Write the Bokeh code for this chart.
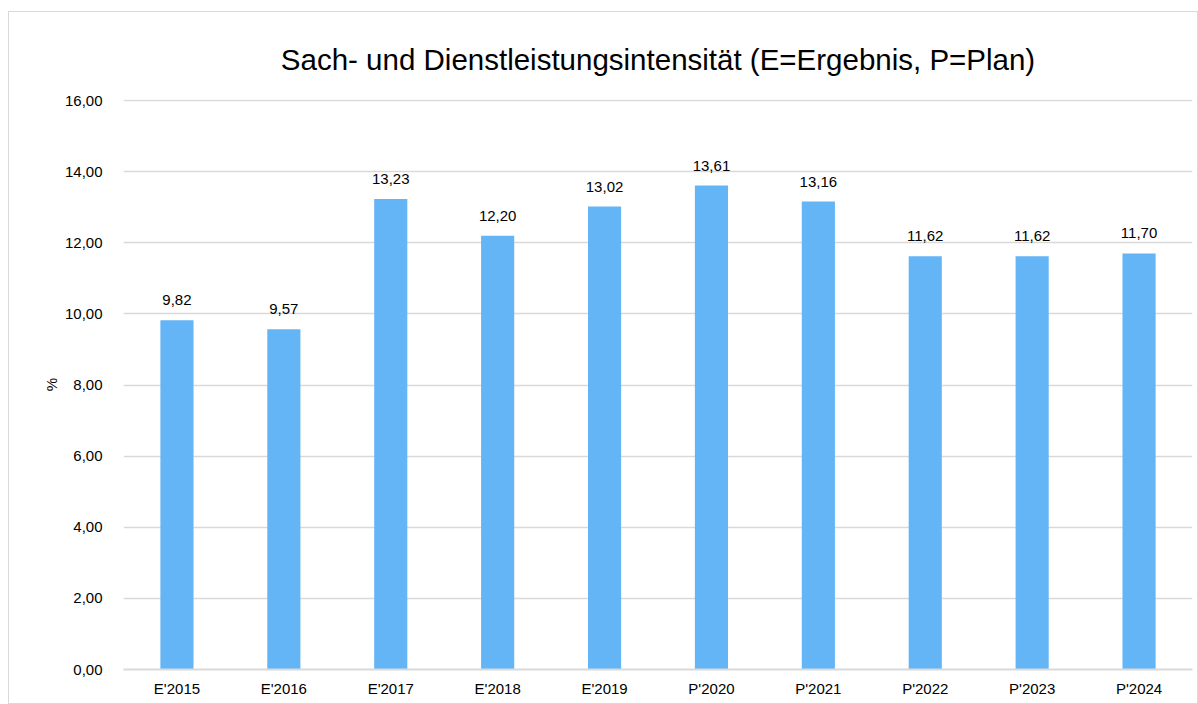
from bokeh.plotting import figure
from bokeh.models import ColumnDataSource, FixedTicker, Range1d
from bokeh.core.properties import value
from bokeh.embed import file_html
from bokeh.resources import INLINE

categories = ["E'2015", "E'2016", "E'2017", "E'2018", "E'2019",
              "P'2020", "P'2021", "P'2022", "P'2023", "P'2024"]
values = [9.82, 9.57, 13.23, 12.20, 13.02, 13.61, 13.16, 11.62, 11.62, 11.70]
y_ticks = [0, 2, 4, 6, 8, 10, 12, 14, 16]
title_text = "Sach- und Dienstleistungsintensität (E=Ergebnis, P=Plan)"

FONT = "Liberation Sans"

labels = [f"{v:.2f}".replace(".", ",") for v in values]
src = ColumnDataSource(dict(cat=categories, val=values, lab=labels))

p = figure(x_range=categories, y_range=Range1d(0, 16.03),
           width=1190, height=693, output_backend="svg", toolbar_location=None,
           min_border_left=114, min_border_right=7, min_border_top=87, min_border_bottom=36)
p.margin = (11, 0, 0, 8)

p.title.text = title_text
p.title.align = "center"
p.title.text_font = FONT
p.title.text_font_size = "29.5px"
p.title.text_font_style = "normal"
p.title.text_color = "#000000"
p.title.standoff = 48
p.title.offset = -48

p.vbar(x="cat", top="val", width=0.31, source=src, color="#64B5F6", line_color=None)
p.text(x="cat", y="val", text="lab", source=src, text_align="center",
       text_baseline="bottom", y_offset=-15, text_font=value(FONT),
       text_font_size="15px", text_color="#000000")

p.x_range.range_padding = 0
p.yaxis.ticker = FixedTicker(ticks=y_ticks)
p.yaxis.major_label_overrides = {t: f"{t:.2f}".replace(".", ",") for t in y_ticks}
p.yaxis.axis_label = "%"
p.yaxis.axis_label_text_font = FONT
p.yaxis.axis_label_text_font_style = "normal"
p.yaxis.axis_label_text_font_size = "15px"
p.yaxis.axis_label_text_color = "#000000"
p.yaxis.axis_label_standoff = 2

for ax in (p.xaxis, p.yaxis):
    ax.major_label_text_font = FONT
    ax.major_label_text_font_size = "15px"
    ax.major_label_text_color = "#000000"
    ax.major_tick_line_color = None
    ax.minor_tick_line_color = None
p.yaxis.axis_line_color = None
p.xaxis.axis_line_color = "#d9d9d9"
p.xaxis.axis_line_width = 2
p.yaxis.major_label_standoff = 15
p.xaxis.major_label_standoff = 4

p.xgrid.grid_line_color = None
p.ygrid.grid_line_color = "#d9d9d9"
p.ygrid.grid_line_width = 1.5
p.outline_line_color = None
p.styles = {"border": "1px solid #d9d9d9"}

open("out.html", "w").write(file_html(p, INLINE))
